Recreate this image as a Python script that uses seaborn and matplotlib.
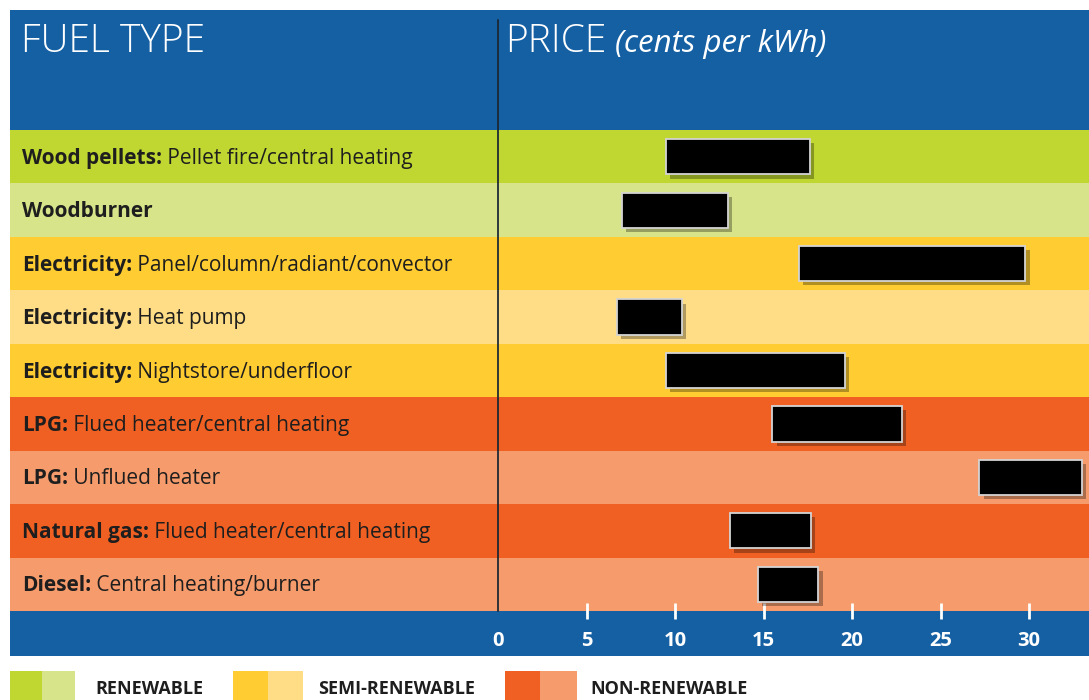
import matplotlib
matplotlib.use("Agg")
import matplotlib.pyplot as plt
import matplotlib.patheffects as pe
from matplotlib.patches import Rectangle
from matplotlib.lines import Line2D
from matplotlib.transforms import blended_transform_factory
import seaborn as sns
import pandas as pd

# ---- data ----
bold_labels = ["Wood pellets:", "Woodburner", "Electricity:", "Electricity:", "Electricity:",
               "LPG:", "LPG:", "Natural gas:", "Diesel:"]
sub_labels = ["Pellet fire/central heating", "", "Panel/column/radiant/convector", "Heat pump",
              "Nightstore/underfloor", "Flued heater/central heating", "Unflued heater",
              "Flued heater/central heating", "Central heating/burner"]
price_low = [9.5, 7.0, 17.0, 6.7, 9.5, 15.5, 27.2, 13.1, 14.7]
price_high = [17.6, 13.0, 29.8, 10.4, 19.6, 22.8, 33.0, 17.7, 18.1]
groups = ["renewable", "renewable", "semi", "semi", "semi", "non", "non", "non", "non"]
shades = ["dark", "light", "dark", "light", "dark", "dark", "light", "dark", "light"]
ticks = [0, 5, 10, 15, 20, 25, 30]
legend_labels = ["RENEWABLE", "SEMI-RENEWABLE", "NON-RENEWABLE"]

palette = {
    ("renewable", "dark"): "#bfd730", ("renewable", "light"): "#d7e48a",
    ("semi", "dark"): "#ffcd31", ("semi", "light"): "#ffdd87",
    ("non", "dark"): "#f06023", ("non", "light"): "#f69b6c",
}
BLUE = "#1560a3"
TXT = "#1e1e1e"

W, H = 1089, 700
sns.set_theme(style="white")
plt.rcParams["font.family"] = ["Open Sans", "DejaVu Sans"]

fig = plt.figure(figsize=(W / 100, H / 100), dpi=100)
fig.patch.set_facecolor("white")

def fx(px):
    return px / W

def fy(py):
    return 1 - py / H

# header band and axis band (behind the axes)
fig.patches.append(Rectangle((fx(10), fy(130)), fx(1079), 120 / H, transform=fig.transFigure,
                             facecolor=BLUE, edgecolor="none", zorder=-2))
fig.patches.append(Rectangle((fx(10), fy(656)), fx(1079), 45 / H, transform=fig.transFigure,
                             facecolor=BLUE, edgecolor="none", zorder=-2))

ax = fig.add_axes([fx(10), fy(611), fx(1079), 481 / H])
ax.set_facecolor("none")

cats = [f"{b} {s}".strip() for b, s in zip(bold_labels, sub_labels)]
df = pd.DataFrame({"cat": cats, "span": [h - l for l, h in zip(price_low, price_high)]})

for i, (g, s) in enumerate(zip(groups, shades)):
    ax.axhspan(i - 0.5, i + 0.5, color=palette[(g, s)], lw=0, zorder=0)

sns.barplot(data=df, y="cat", x="span", order=cats, orient="h", color="black",
            left=price_low, width=0.66, errorbar=None, edgecolor="#d4d4d4",
            linewidth=1.3, saturation=1, ax=ax, zorder=3)
for p in ax.patches:
    p.set_path_effects([pe.SimplePatchShadow(offset=(3, -3), shadow_rgbFace="black", alpha=0.3),
                        pe.Normal()])

x0_px, scale = 498, 17.7
ax.set_xlim(-(x0_px - 10) / scale, (W - x0_px) / scale)
ax.set_ylim(len(cats) - 0.5, -0.5)
ax.set_xticks(ticks)
ax.set_xticklabels([str(t) for t in ticks], color="white", fontsize=14.5, fontweight="bold")
ax.tick_params(axis="x", direction="inout", length=11, width=2, color="white", pad=9,
               bottom=True)
ax.xaxis.get_major_ticks()[0].tick1line.set_visible(False)
ax.set_yticks([])
ax.set_xlabel("")
ax.set_ylabel("")
for sp in ax.spines.values():
    sp.set_visible(False)

# row labels
tr = blended_transform_factory(ax.transAxes, ax.transData)
for i, (b, s) in enumerate(zip(bold_labels, sub_labels)):
    t = ax.text(12 / 1079, i + 0.03, b, transform=tr, ha="left", va="center", fontsize=15,
                fontweight="bold", color=TXT, zorder=5)
    if s:
        ax.annotate(" " + s, xy=(1, 0.5), xycoords=t, ha="left", va="center",
                    fontsize=15, color=TXT, zorder=5)

# vertical divider
fig.add_artist(Line2D([fx(498), fx(498)], [fy(20), fy(611)], color="#1a2633", lw=1.4,
                      alpha=0.9, transform=fig.transFigure, zorder=4))

# header texts
fig.text(fx(21), fy(42), "FUEL TYPE", color="white", fontsize=28, va="center", ha="left",
         fontweight="light")
pt = fig.text(fx(505), fy(42), "PRICE", color="white", fontsize=28, va="center", ha="left",
              fontweight="light")
fig.canvas.draw()
bb = pt.get_window_extent()
fig.text(bb.x1 / W + fx(9), fy(44), "(cents per kWh)", color="white", fontsize=22.5,
         style="italic", va="center", ha="left")

# legend
sw = [(10, 42, 75, 95), (233, 268, 303, 318), (505, 540, 577, 590)]
keys = ["renewable", "semi", "non"]
for (a, b, c, lx), k, lab in zip(sw, keys, legend_labels):
    fig.patches.append(Rectangle((fx(a), 0), fx(b - a), 29 / H, transform=fig.transFigure,
                                 facecolor=palette[(k, "dark")], edgecolor="none"))
    fig.patches.append(Rectangle((fx(b), 0), fx(c - b), 29 / H, transform=fig.transFigure,
                                 facecolor=palette[(k, "light")], edgecolor="none"))
    fig.text(fx(lx), fy(689), lab, color=TXT, fontsize=13, fontweight="bold",
             va="center", ha="left")

fig.savefig("out.png", dpi=100)
